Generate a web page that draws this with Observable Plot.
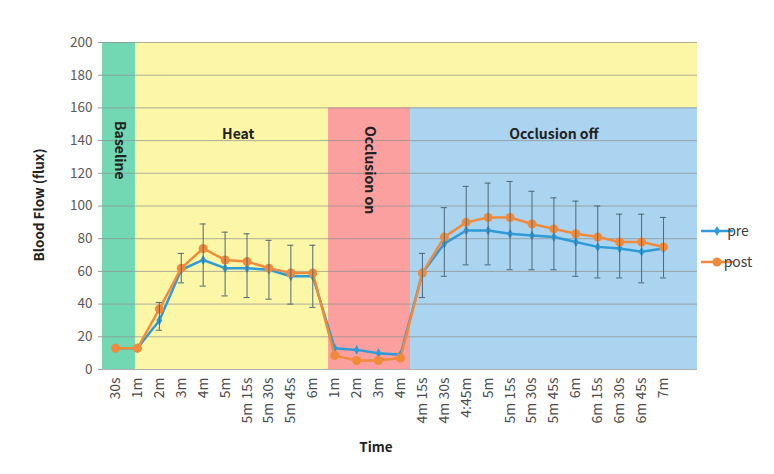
<!DOCTYPE html>
<html>
<head>
<meta charset="utf-8">
<script src="https://cdn.jsdelivr.net/npm/d3@7"></script>
<script src="https://cdn.jsdelivr.net/npm/@observablehq/plot@0.6"></script>
<style>
  html, body { margin: 0; padding: 0; background: #fff; }
  #chart { position: relative; width: 774px; height: 474px; }
  svg { font-family: "Noto Sans CJK KR", "Noto Sans", sans-serif; }
</style>
</head>
<body>
<div id="chart"></div>
<script>
// Category tick labels (time points)
const labels = ["30s","1m","2m","3m","4m","5m","5m 15s","5m 30s","5m 45s","6m",
  "1m","2m","3m","4m","4m 15s","4m 30s","4:45m","5m","5m 15s","5m 30s","5m 45s","6m",
  "6m 15s","6m 30s","6m 45s","7m"];
// Series values (flux)
const pre  = [13,13,30,61,67,62,62,61,57,57, 13,12,10,9, 59,77,85,85,83,82,81,78,75,74,72,74];
const post = [13,13,37,62,74,67,66,62,59,59, 8.5,5.5,5.5,7, 59,81,90,93,93,89,86,83,81,78,78,75];
// Error bar ends
const errLo = [null,null,24,53,51,45,44,43,40,38, null,null,null,null, 44,57,64,64,61,61,61,57,56,56,53,56];
const errHi = [null,null,41,71,89,84,83,79,76,76, null,null,null,null, 71,99,112,114,115,109,105,103,100,95,95,93];
// Protocol phases (in category-index units) and their flux extent
const phaseNames = ["Heat background","Baseline","Occlusion on","Occlusion off"];
const phaseStart = [0.91, -0.593, 9.72, 13.46];
const phaseEnd   = [26.55, 0.91, 13.46, 26.55];
const phaseTop   = [200, 200, 160, 160];
const phaseColor = ["#fcf7a6", "#72d8b4", "#fb9f9f", "#aad4ef"];
// Phase captions
const captions = ["Baseline","Heat","Occlusion on","Occlusion off"];
const captionX = [0.16, 5.6, 11.6, 20.0];
const captionY = [134, 144, 122, 144];
const captionRotate = [90, 0, 90, 0];

const phases = phaseNames.map((n, i) => ({n, x1: phaseStart[i], x2: phaseEnd[i], y2: phaseTop[i], c: phaseColor[i]}));
const rows = labels.map((l, i) => ({i, l, pre: pre[i], post: post[i], lo: errLo[i], hi: errHi[i]}));
const errRows = rows.filter(d => d.lo != null);
const caps = captions.map((t, i) => ({t, x: captionX[i], y: captionY[i], r: captionRotate[i]}));

const plot = Plot.plot({
  width: 774,
  height: 474,
  marginLeft: 102,
  marginRight: 77,
  marginTop: 42,
  marginBottom: 105,
  style: {background: "transparent", fontSize: "12px"},
  x: {type: "linear", domain: [-0.593, 26.55], axis: null},
  y: {domain: [0, 200], axis: null},
  marks: [
    Plot.rect(phases, {x1: "x1", x2: "x2", y1: 0, y2: "y2", fill: "c"}),
    Plot.gridY(d3.range(0, 201, 20), {stroke: "#8f8f8f", strokeOpacity: 0.7}),
    Plot.axisY({ticks: d3.range(0, 201, 20), tickSize: 4, tickPadding: 6, stroke: "#9a9a9a", fill: "#595959", fontSize: 13.5, label: null}),
    Plot.axisX({ticks: d3.range(labels.length), tickFormat: i => labels[i], tickRotate: -90, tickSize: 0, tickPadding: 8, fill: "#4a4a4a", fontSize: 14, label: null}),
    Plot.text(caps.filter(d => d.r === 0), {x: "x", y: "y", text: "t", fontWeight: "bold", fontSize: 14, fill: "#222"}),
    Plot.text(caps.filter(d => d.r === 90), {x: "x", y: "y", text: "t", rotate: 90, fontWeight: "bold", fontSize: 14, fill: "#222"}),
    Plot.line(rows, {x: "i", y: "pre", stroke: "#2f9bd7", strokeWidth: 2.5}),
    Plot.dot(rows, {x: "i", y: "pre", symbol: "diamond", r: 3, fill: "#2f9bd7"}),
    Plot.line(rows, {x: "i", y: "post", stroke: "#f28a3c", strokeWidth: 2.5}),
    Plot.dot(rows, {x: "i", y: "post", symbol: "circle", r: 4.5, fill: "#f28a3c"}),
    Plot.ruleX(errRows, {x: "i", y1: "lo", y2: "hi", stroke: "#4f6978", strokeWidth: 1}),
    Plot.ruleY(errRows, {x1: d => d.i - 0.14, x2: d => d.i + 0.14, y: "lo", stroke: "#4f6978", strokeWidth: 1}),
    Plot.ruleY(errRows, {x1: d => d.i - 0.14, x2: d => d.i + 0.14, y: "hi", stroke: "#4f6978", strokeWidth: 1})
  ]
});

const svg = d3.select(plot);
// Axis titles
svg.append("text").attr("x", 376).attr("y", 452).attr("text-anchor", "middle")
  .attr("font-weight", "bold").attr("font-size", 13.5).attr("fill", "#222").text("Time");
svg.append("text").attr("transform", "translate(44,205) rotate(-90)").attr("text-anchor", "middle")
  .attr("font-weight", "bold").attr("font-size", 13.5).attr("fill", "#222").text("Blood Flow (flux)");
// Legend
const legend = [{name: "pre", color: "#2f9bd7", sym: d3.symbolDiamond, size: 30, y: 231},
                {name: "post", color: "#f28a3c", sym: d3.symbolCircle, size: 64, y: 262}];
legend.forEach(l => {
  const g = svg.append("g").attr("transform", `translate(701,${l.y})`);
  g.append("line").attr("x1", 0).attr("x2", 32).attr("stroke", l.color).attr("stroke-width", 2.5);
  g.append("path").attr("transform", "translate(16,0)").attr("d", d3.symbol(l.sym, l.size)()).attr("fill", l.color);
  g.append("text").attr("x", 37).attr("dy", "0.35em").attr("font-size", 14).attr("fill", "#404040").text(l.name);
});

document.getElementById("chart").appendChild(plot);
</script>
</body>
</html>
